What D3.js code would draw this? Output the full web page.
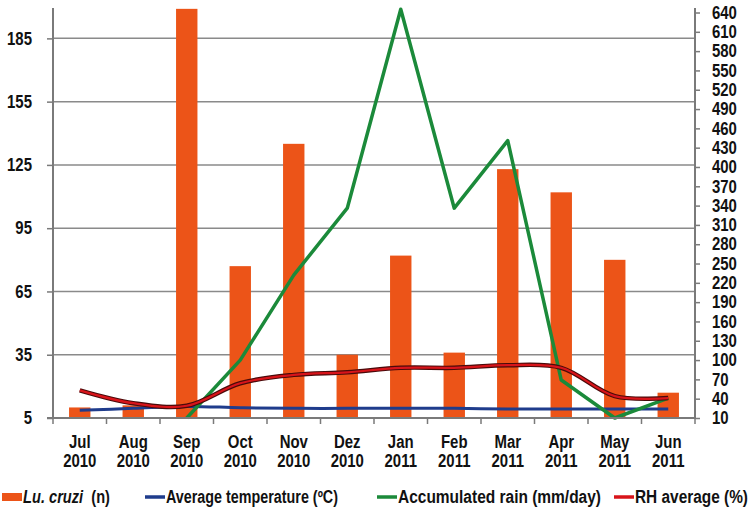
<!DOCTYPE html>
<html>
<head>
    <meta charset="UTF-8" />
    <style>
        body { margin: 0; background: #fff; }
        text { font-family: "Liberation Sans", Arial, sans-serif; fill: #111; }
        .tick-label { font-size: 18px; font-weight: bold; }
        .legend text { font-size: 18px; font-weight: bold; }
    </style>
    <script src="https://d3js.org/d3.v7.min.js"></script>
</head>
<body>
    <svg width="750" height="517"></svg>
    <script>
        // data
        var months = ["Jul", "Aug", "Sep", "Oct", "Nov", "Dez", "Jan", "Feb", "Mar", "Apr", "May", "Jun"];
        var years = ["2010", "2010", "2010", "2010", "2010", "2010", "2011", "2011", "2011", "2011", "2011", "2011"];
        var luCruzi = [10, 11, 199, 77, 135, 35, 82, 36, 123, 112, 80, 17];
        var avgTemp = [22, 25, 28, 26, 25, 25, 25, 25, 24, 24, 24, 24];
        var rain = [null, null, 10, 100, 232, 336, 645, 336, 441, 69, 10, 41];
        var rhAvg = [53, 33, 29, 64, 77, 81, 88, 88, 92, 88, 44, 41];
        var leftTicks = [5, 35, 65, 95, 125, 155, 185];
        var rightTicks = d3.range(10, 641, 30);

        var svg = d3.select("svg"),
            x0 = 53, x1 = 695, yTop = 8, yBot = 418;

        var x = d3.scaleBand().domain(months).range([x0, x1]);
        var yL = d3.scaleLinear().domain([5, 199.4]).range([yBot, yTop]);
        var yR = d3.scaleLinear().domain([10, 647]).range([yBot, yTop]);

        // gridlines
        svg.append("g")
           .selectAll("line")
           .data(leftTicks.slice(1))
           .enter().append("line")
           .attr("x1", x0).attr("x2", x1)
           .attr("y1", function(d) { return yL(d); })
           .attr("y2", function(d) { return yL(d); })
           .attr("stroke", "#8a8a8a")
           .attr("stroke-width", 1.5);

        // bars
        var barW = x.bandwidth() * 0.4;
        svg.append("g")
           .selectAll("rect")
           .data(luCruzi)
           .enter().append("rect")
           .attr("x", function(d, i) { return x(months[i]) + (x.bandwidth() - barW) / 2; })
           .attr("y", function(d) { return yL(d); })
           .attr("width", barW)
           .attr("height", function(d) { return yBot - yL(d); })
           .attr("fill", "#ec5418");

        var cx = function(d, i) { return x(months[i]) + x.bandwidth() / 2; };

        // average temperature
        svg.append("path")
           .datum(avgTemp)
           .attr("d", d3.line().x(cx).y(function(d) { return yR(d); }).curve(d3.curveCatmullRom))
           .attr("fill", "none")
           .attr("stroke", "#1f3c8c")
           .attr("stroke-width", 3);

        // rain
        svg.append("path")
           .datum(rain)
           .attr("d", d3.line().defined(function(d) { return d !== null; })
                        .x(cx).y(function(d) { return yR(d); }))
           .attr("fill", "none")
           .attr("stroke", "#1b8a3a")
           .attr("stroke-width", 3.5)
           .attr("stroke-linejoin", "round");

        // RH average
        var rhLine = d3.line().x(cx).y(function(d) { return yR(d); }).curve(d3.curveCatmullRom);
        svg.append("path")
           .datum(rhAvg)
           .attr("d", rhLine)
           .attr("fill", "none")
           .attr("stroke", "#4a0a0a")
           .attr("stroke-width", 4.5);
        svg.append("path")
           .datum(rhAvg)
           .attr("d", rhLine)
           .attr("fill", "none")
           .attr("stroke", "#d8141a")
           .attr("stroke-width", 2.2);

        // axes
        var axisColor = "#7a7a7a";
        var gL = svg.append("g")
           .attr("transform", "translate(" + x0 + ",0)")
           .call(d3.axisLeft(yL).tickValues(leftTicks).tickSize(6).tickPadding(15));
        var gR = svg.append("g")
           .attr("transform", "translate(" + x1 + ",0)")
           .call(d3.axisRight(yR).tickValues(rightTicks).tickSize(5).tickPadding(12));
        var gX = svg.append("g")
           .attr("transform", "translate(0," + yBot + ")")
           .call(d3.axisBottom(x).tickSize(0).tickFormat(""));

        [gL, gR, gX].forEach(function(g) {
            g.select(".domain").attr("stroke", axisColor).attr("stroke-width", 2);
            g.selectAll(".tick line").attr("stroke", axisColor).attr("stroke-width", 1.5);
            g.selectAll("text").attr("class", "tick-label").attr("fill", "#111")
             .attr("font-family", null).attr("font-size", null);
        });
        gL.select(".domain").attr("d", "M0," + yTop + "V" + yBot);
        gR.select(".domain").attr("d", "M0," + yTop + "V" + yBot);
        gX.select(".domain").attr("d", "M" + (x0 - 6) + ",0H" + x1);

        // x ticks at band boundaries
        gX.selectAll(".sep")
          .data(months.concat(["end"]))
          .enter().append("line")
          .attr("x1", function(d, i) { return x0 + i * x.step(); })
          .attr("x2", function(d, i) { return x0 + i * x.step(); })
          .attr("y1", 0).attr("y2", 6)
          .attr("stroke", axisColor).attr("stroke-width", 1.5);

        // x labels in two lines
        var xg = svg.append("g");
        xg.selectAll(".m").data(months).enter().append("text")
          .attr("class", "tick-label")
          .attr("text-anchor", "middle")
          .attr("x", function(d) { return x(d) + x.bandwidth() / 2; })
          .attr("y", 448)
          .text(function(d) { return d; });
        xg.selectAll(".yr").data(years).enter().append("text")
          .attr("class", "tick-label")
          .attr("text-anchor", "middle")
          .attr("x", function(d, i) { return x(months[i]) + x.bandwidth() / 2; })
          .attr("y", 467)
          .text(function(d) { return d; });

        // narrow the tick texts, the original uses a condensed face
        svg.selectAll("text").each(function() {
            var w = this.getComputedTextLength();
            d3.select(this).attr("textLength", w * 0.83).attr("lengthAdjust", "spacingAndGlyphs");
        });

        // legend
        var legend = svg.append("g").attr("class", "legend");
        legend.append("rect").attr("x", 2).attr("y", 493).attr("width", 20).attr("height", 8).attr("fill", "#ec5418");
        var t0 = legend.append("text").attr("x", 23).attr("y", 503)
                       .attr("xml:space", "preserve")
                       .attr("textLength", 87).attr("lengthAdjust", "spacingAndGlyphs");
        t0.append("tspan").attr("font-style", "italic").text("Lu. cruzi");
        t0.append("tspan").text("  (n)");
        var items = [
            { x: 145, w: 172, color: "#1f3c8c", label: "Average temperature (ºC)" },
            { x: 377, w: 203, color: "#1b8a3a", label: "Accumulated rain (mm/day)" },
            { x: 614, w: 113, color: "#d8141a", label: "RH average (%)" }
        ];
        items.forEach(function(it) {
            legend.append("line")
                  .attr("x1", it.x).attr("x2", it.x + 20)
                  .attr("y1", 497).attr("y2", 497)
                  .attr("stroke", it.color).attr("stroke-width", 3.5);
            legend.append("text").attr("x", it.x + 21).attr("y", 503)
                  .attr("textLength", it.w).attr("lengthAdjust", "spacingAndGlyphs")
                  .text(it.label);
        });
    </script>
</body>
</html>
